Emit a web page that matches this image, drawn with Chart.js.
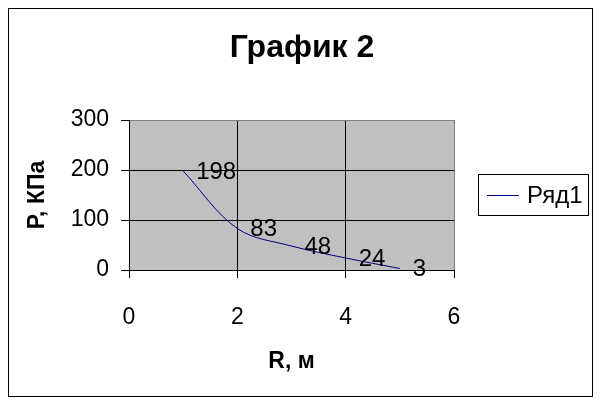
<!DOCTYPE html>
<html>
<head>
<meta charset="utf-8">
<script src="https://cdn.jsdelivr.net/npm/chart.js@4"></script>
<style>
html,body{margin:0;padding:0;background:#fff;}
#wrap{width:602px;height:406px;}
</style>
</head>
<body>
<div id="wrap"><canvas id="c" width="602" height="406"></canvas></div>
<script>
const chartTitle = "График 2";
const seriesName = "Ряд1";
const xAxisTitle = "R, м";
const yAxisTitle = "P, КПа";
const rValues = [1, 2, 3, 4, 5];
const pValues = [198, 83, 48, 24, 3];
const xTickValues = [0, 2, 4, 6];
const yTickValues = [0, 100, 200, 300];

const FONT = "'Liberation Sans', Arial, sans-serif";
const points = rValues.map((r, i) => ({x: r, y: pValues[i]}));

const bgPlugin = {
  id: 'bg',
  beforeDraw(chart) {
    const {ctx, chartArea: a} = chart;
    ctx.save();
    ctx.fillStyle = '#fff';
    ctx.fillRect(0, 0, chart.width, chart.height);
    ctx.fillStyle = '#c0c0c0';
    ctx.fillRect(a.left, a.top, a.right - a.left, a.bottom - a.top);
    ctx.restore();
  },
  afterDraw(chart) {
    const ctx = chart.ctx;
    ctx.save();
    ctx.strokeStyle = '#000';
    ctx.lineWidth = 1;
    ctx.strokeRect(8.5, 8.5, 584, 388);
    // chart title
    ctx.fillStyle = '#000';
    ctx.font = "bold 32px " + FONT;
    ctx.textAlign = 'center';
    ctx.textBaseline = 'alphabetic';
    ctx.fillText(chart.options.plugins.chartTitleText.text, 302, 57);
    // legend
    const ds = chart.data.datasets[0];
    ctx.strokeRect(478.5, 174.5, 110, 41);
    ctx.strokeStyle = ds.borderColor;
    ctx.beginPath();
    ctx.moveTo(487, 195.5);
    ctx.lineTo(519, 195.5);
    ctx.stroke();
    ctx.fillStyle = '#000';
    ctx.font = "24px " + FONT;
    ctx.textAlign = 'left';
    ctx.textBaseline = 'middle';
    ctx.fillText(ds.label, 527, 196);
    ctx.restore();
  },
  afterDatasetsDraw(chart) {
    const ctx = chart.ctx;
    const meta = chart.getDatasetMeta(0);
    const ds = chart.data.datasets[0];
    ctx.save();
    ctx.fillStyle = '#000';
    ctx.font = "24px " + FONT;
    ctx.textAlign = 'left';
    ctx.textBaseline = 'middle';
    meta.data.forEach((el, i) => {
      ctx.fillText(String(ds.data[i].y), el.x + 13, el.y + 1);
    });
    ctx.restore();
  }
};

new Chart(document.getElementById('c'), {
  type: 'scatter',
  data: {
    datasets: [{
      label: seriesName,
      data: points,
      showLine: true,
      borderColor: '#000080',
      borderWidth: 1,
      pointRadius: 0,
      pointHoverRadius: 0,
      tension: 0.35,
      fill: false
    }]
  },
  options: {
    responsive: false,
    animation: false,
    devicePixelRatio: 1,
    layout: {padding: {left: 8, right: 148, top: 120, bottom: 9}},
    plugins: {
      legend: {display: false},
      tooltip: {enabled: false},
      title: {display: false},
      chartTitleText: {text: chartTitle}
    },
    scales: {
      x: {
        type: 'linear',
        min: xTickValues[0],
        max: xTickValues[xTickValues.length - 1],
        afterBuildTicks(scale) { scale.ticks = xTickValues.map(v => ({value: v})); },
        afterFit(scale) { scale.height = 127; },
        ticks: {color: '#000', font: {family: FONT, size: 23}, padding: 26, maxRotation: 0},
        grid: {
          color: ctx => (ctx.tick && ctx.tick.value === 6) ? '#808080' : '#000',
          tickColor: '#000', tickLength: 8, lineWidth: 1, drawTicks: true
        },
        border: {color: '#000', width: 1},
        title: {display: true, text: xAxisTitle, color: '#000',
          font: {family: FONT, size: 23, weight: 'bold', lineHeight: 1.2}, padding: {top: 0, bottom: 22}}
      },
      y: {
        type: 'linear',
        min: yTickValues[0],
        max: yTickValues[yTickValues.length - 1],
        afterBuildTicks(scale) { scale.ticks = yTickValues.map(v => ({value: v})); },
        afterFit(scale) { scale.width = 121; },
        ticks: {color: '#000', font: {family: FONT, size: 23}, padding: 12},
        grid: {
          color: ctx => (ctx.tick && ctx.tick.value === 300) ? '#808080' : '#000',
          tickColor: '#000', tickLength: 8, lineWidth: 1, drawTicks: true
        },
        border: {color: '#000', width: 1},
        title: {display: true, text: yAxisTitle, color: '#000',
          font: {family: FONT, size: 23, weight: 'bold', lineHeight: 1.2}, padding: {top: 16, bottom: 0}}
      }
    }
  },
  plugins: [bgPlugin]
});
</script>
</body>
</html>
